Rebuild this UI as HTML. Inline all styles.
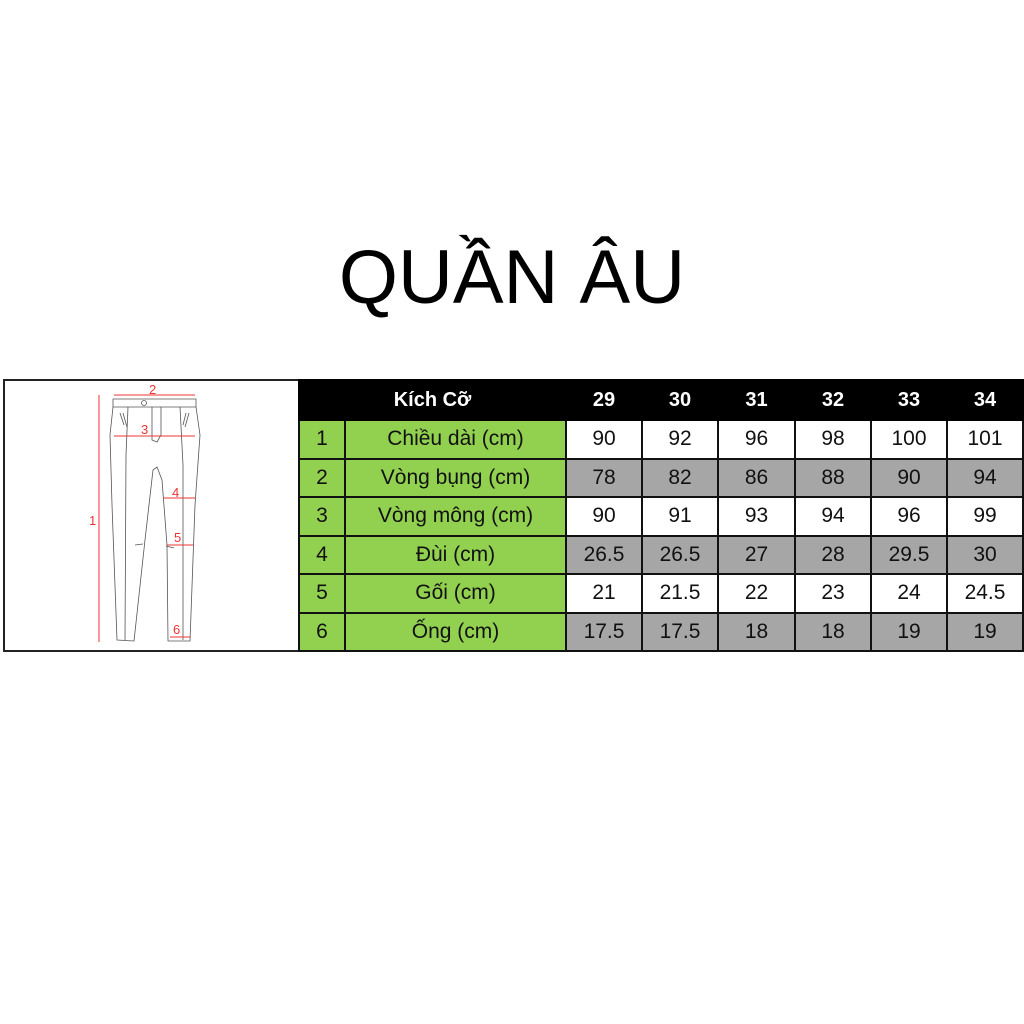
<!DOCTYPE html>
<html><head><meta charset="utf-8"><style>
body{margin:0;width:1024px;height:1024px;background:#fff;position:relative;overflow:hidden;font-family:"Liberation Sans",sans-serif}
.title{position:absolute;left:0;width:1024px;top:234px;text-align:center;font-size:76px;color:#000;letter-spacing:0px}
.box{position:absolute;left:3px;top:379px;width:1019px;height:269px;border:2px solid #222;background:#fff}
table{position:absolute;left:298px;top:379px;border-collapse:collapse;table-layout:fixed;font-family:"Liberation Sans Narrow","Liberation Sans",sans-serif}
td{border:2px solid #111;height:36.5px;padding:0;text-align:center;font-size:21px;color:#111}
tr.h td{background:#000;color:#fff;font-weight:bold;border-color:#000;height:38px;font-size:20px}
.g{background:#92d050}
.w{background:#fff}
.d{background:#a6a6a6}
</style></head><body>
<div class="title">QUẦN ÂU</div>
<div class="box"></div>
<svg style="position:absolute;left:0;top:375px" width="300" height="285" viewBox="0 0 300 285">
<g fill="none" stroke="#555" stroke-width="0.8">
<path d="M113 24 L196 24 L196 32 L113 32 Z"/>
<path d="M113 32 L110 60 L112 130 L117 265 L134 266 L145 165 L153 95 L157 92 L162 105 L167 170 L168 266 L190 266 L195 130 L200 60 L196 32"/>
<path d="M152 32 L152 65 L157 67 L161 60 L161 32"/>
<path d="M128 32 L126 80 L125 265"/>
<path d="M180 32 L183 90 L183 265"/>
<path d="M120 38 L124 50 M123 38 L127 52 M186 38 L183 50 M189 38 L185 52"/>
<circle cx="144" cy="28" r="2.5"/>
<path d="M135 170 L143 169 M166 171 L174 173"/>
</g>
<g stroke="#e33" stroke-width="1" fill="none">
<line x1="99" y1="20" x2="99" y2="267"/>
<line x1="114" y1="20" x2="195" y2="20"/>
<line x1="114" y1="61" x2="195" y2="61"/>
<line x1="163" y1="123" x2="195" y2="123"/>
<line x1="167" y1="170" x2="193" y2="170"/>
<line x1="170" y1="262" x2="190" y2="262"/>
</g>
<g fill="#e33" font-family="Liberation Sans,sans-serif" font-size="13">
<text x="149" y="19">2</text>
<text x="141" y="59">3</text>
<text x="89" y="150">1</text>
<text x="172" y="122">4</text>
<text x="174" y="167">5</text>
<text x="173" y="259">6</text>
</g>
</svg>
<table>
<colgroup><col style="width:46px"><col style="width:221px"><col style="width:76px"><col style="width:76px"><col style="width:77px"><col style="width:76px"><col style="width:76px"><col style="width:76px"></colgroup>
<tr class="h"><td colspan="2">Kích Cỡ</td><td>29</td><td>30</td><td>31</td><td>32</td><td>33</td><td>34</td></tr>
<tr><td class="g">1</td><td class="g">Chiều dài (cm)</td><td class="w">90</td><td class="w">92</td><td class="w">96</td><td class="w">98</td><td class="w">100</td><td class="w">101</td></tr>
<tr><td class="g">2</td><td class="g">Vòng bụng (cm)</td><td class="d">78</td><td class="d">82</td><td class="d">86</td><td class="d">88</td><td class="d">90</td><td class="d">94</td></tr>
<tr><td class="g">3</td><td class="g">Vòng mông (cm)</td><td class="w">90</td><td class="w">91</td><td class="w">93</td><td class="w">94</td><td class="w">96</td><td class="w">99</td></tr>
<tr><td class="g">4</td><td class="g">Đùi (cm)</td><td class="d">26.5</td><td class="d">26.5</td><td class="d">27</td><td class="d">28</td><td class="d">29.5</td><td class="d">30</td></tr>
<tr><td class="g">5</td><td class="g">Gối (cm)</td><td class="w">21</td><td class="w">21.5</td><td class="w">22</td><td class="w">23</td><td class="w">24</td><td class="w">24.5</td></tr>
<tr><td class="g">6</td><td class="g">Ống (cm)</td><td class="d">17.5</td><td class="d">17.5</td><td class="d">18</td><td class="d">18</td><td class="d">19</td><td class="d">19</td></tr>
</table>
</body></html>
